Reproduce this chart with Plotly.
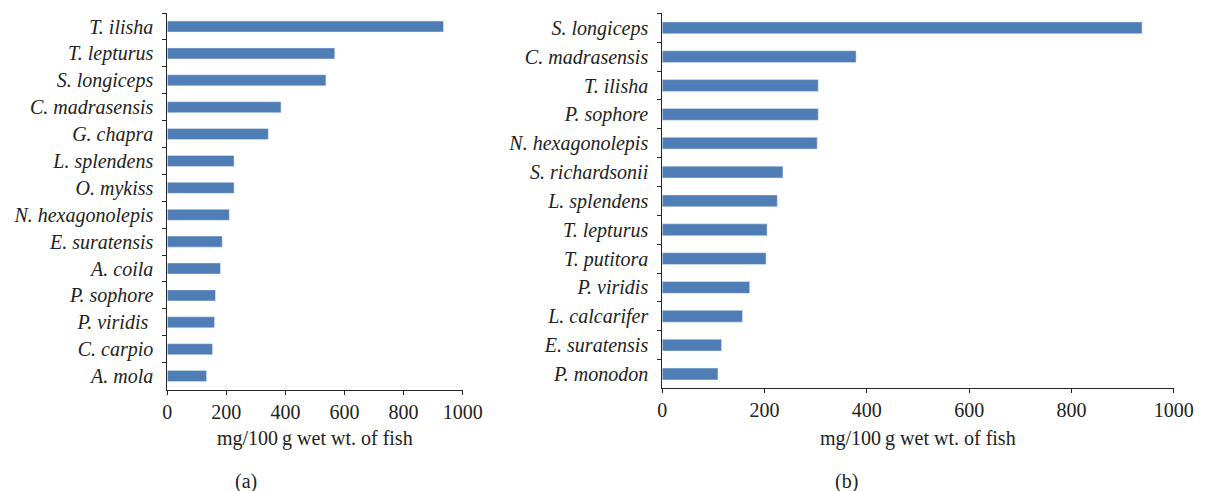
import plotly.graph_objects as go

species_a = ["T. ilisha", "T. lepturus", "S. longiceps", "C. madrasensis", "G. chapra",
             "L. splendens", "O. mykiss", "N. hexagonolepis", "E. suratensis", "A. coila",
             "P. sophore", "P. viridis ", "C. carpio", "A. mola"]
values_a = [935, 567, 537, 385, 342, 226, 226, 210, 186, 180, 163, 160, 153, 133]

species_b = ["S. longiceps", "C. madrasensis", "T. ilisha", "P. sophore", "N. hexagonolepis",
             "S. richardsonii", "L. splendens", "T. lepturus", "T. putitora", "P. viridis",
             "L. calcarifer", "E. suratensis", "P. monodon"]
values_b = [938, 379, 305, 305, 303, 236, 225, 205, 203, 171, 157, 116, 109]

x_ticks = [0, 200, 400, 600, 800, 1000]
x_title = "mg/100\u2009g wet wt. of fish"
panel_labels = ["(a)", "(b)"]

W, H = 1216, 491
BAR = "#4f7db6"
FONT = "Liberation Serif"
AX = "#262626"
FS = 20

fig = go.Figure()
fig.add_trace(go.Bar(x=values_a, y=species_a, orientation="h", marker_color=BAR,
                     width=0.41, xaxis="x", yaxis="y", showlegend=False))
fig.add_trace(go.Bar(x=values_b, y=species_b, orientation="h", marker_color=BAR,
                     width=0.41, xaxis="x2", yaxis="y2", showlegend=False))

def xaxis(domain, anchor):
    return dict(domain=domain, anchor=anchor, range=[0, 1000], tickvals=x_ticks,
                showgrid=False, zeroline=False, showline=True, linecolor=AX, linewidth=1,
                ticks="outside", ticklen=4, tickcolor=AX, tickwidth=1,
                tickfont=dict(family=FONT, size=FS, color="#222"))

def yaxis(domain, anchor, cats):
    return dict(domain=domain, anchor=anchor, type="category", categoryorder="array",
                categoryarray=cats, autorange="reversed", showgrid=False, zeroline=False,
                showline=True, linecolor=AX, linewidth=1, ticks="outside", ticklen=4,
                tickcolor=AX, tickwidth=1, tickson="boundaries", ticklabelstandoff=9,
                tickfont=dict(family=FONT, size=FS, color="#222", style="italic"))

xa = [165.7 / W, 467.3 / W]
xb = [671.0 / W, 1193.3 / W]
ya = [1 - 389.5 / H, 1 - 13.1 / H]
yb = [1 - 388.4 / H, 1 - 13.4 / H]

fig.update_layout(
    width=W, height=H, margin=dict(l=0, r=0, t=0, b=0),
    paper_bgcolor="white", plot_bgcolor="white",
    xaxis=xaxis(xa, "y"), yaxis=yaxis(ya, "x", species_a),
    xaxis2=xaxis(xb, "y2"), yaxis2=yaxis(yb, "x2", species_b),
    bargap=0.5,
)

annos = []
for dom in (xa, xb):
    cx = (dom[0] + dom[1]) / 2
    annos.append(dict(x=cx, y=1 - 438 / H, xref="paper", yref="paper", text=x_title,
                      showarrow=False, font=dict(family=FONT, size=FS, color="#222"),
                      xanchor="center", yanchor="middle"))
annos.append(dict(x=246 / W, y=1 - 481 / H, xref="paper", yref="paper", text=panel_labels[0],
                  showarrow=False, font=dict(family=FONT, size=FS, color="#222"),
                  xanchor="center", yanchor="middle"))
annos.append(dict(x=859 / W, y=1 - 481 / H, xref="paper", yref="paper", text=panel_labels[1],
                  showarrow=False, font=dict(family=FONT, size=FS, color="#222"),
                  xanchor="center", yanchor="middle"))
fig.update_layout(annotations=annos)

fig.write_html("out.html", config={"displayModeBar": False},
               post_script="document.body.style.margin='0';document.documentElement.style.overflow='hidden';document.body.style.overflow='hidden';")
